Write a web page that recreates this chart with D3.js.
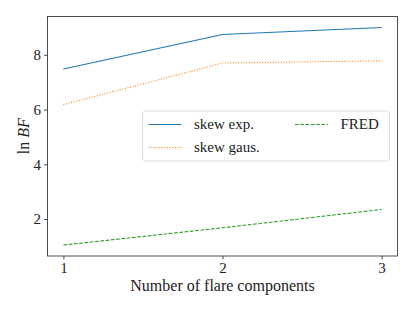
<!DOCTYPE html>
<html>
<head>
<meta charset="utf-8">
<script src="https://cdn.jsdelivr.net/npm/d3@7"></script>
<style>
  body { margin: 0; background: #fff; }
  svg text { font-family: "Liberation Serif", "DejaVu Serif", serif; fill: #222; }
</style>
</head>
<body>
<div id="chart"></div>
<script>
// values
var components = [1, 2, 3];
var skewExp = [7.48, 8.74, 9.0];
var skewGaus = [6.18, 7.70, 7.78];
var fred = [1.05, 1.68, 2.35];
var xTicks = [1, 2, 3];
var yTicks = [2, 4, 6, 8];

var w = 415, h = 311;
var plotL = 47.5, plotR = 397.5, plotT = 16.5, plotB = 256;

var svg = d3.select("#chart").append("svg")
  .attr("width", w).attr("height", h);

var x = d3.scaleLinear().domain([0.9, 3.1]).range([plotL, plotR]);
var y = d3.scaleLinear().domain([0.65, 9.4]).range([plotB, plotT]);

var series = [
  { name: "skew exp.", values: skewExp, color: "#1f77b4", dash: null },
  { name: "skew gaus.", values: skewGaus, color: "#ff7f0e", dash: "1,1.65" },
  { name: "FRED", values: fred, color: "#2ca02c", dash: "3.7,1.6" }
];

var line = d3.line()
  .x(function(d, i) { return x(components[i]); })
  .y(function(d) { return y(d); });

svg.selectAll("path.series")
  .data(series)
  .enter()
  .append("path")
  .attr("class", "series")
  .attr("d", function(s) { return line(s.values); })
  .attr("fill", "none")
  .attr("stroke", function(s) { return s.color; })
  .attr("stroke-width", 1.1)
  .attr("stroke-dasharray", function(s) { return s.dash; });

// axes
var xAxis = svg.append("g")
  .attr("transform", "translate(0," + plotB + ")")
  .call(d3.axisBottom(x).tickValues(xTicks).tickSize(3.5).tickPadding(3).tickFormat(d3.format("d")));
var yAxis = svg.append("g")
  .attr("transform", "translate(" + plotL + ",0)")
  .call(d3.axisLeft(y).tickValues(yTicks).tickSize(3.5).tickPadding(3).tickFormat(d3.format("d")));

[xAxis, yAxis].forEach(function(g) {
  g.select(".domain").remove();
  g.selectAll(".tick line").attr("stroke", "#222").attr("stroke-width", 0.8);
  g.selectAll(".tick text").attr("font-size", 15).attr("font-family", "Liberation Serif").attr("fill", "#222");
});

// frame
svg.append("rect")
  .attr("x", plotL).attr("y", plotT)
  .attr("width", plotR - plotL).attr("height", plotB - plotT)
  .attr("fill", "none").attr("stroke", "#222").attr("stroke-width", 0.8);

// axis labels
svg.append("text")
  .attr("x", (plotL + plotR) / 2).attr("y", 291)
  .attr("text-anchor", "middle").attr("font-size", 16)
  .text("Number of flare components");

var yl = svg.append("text")
  .attr("transform", "translate(29," + (plotT + plotB) / 2 + ") rotate(-90)")
  .attr("text-anchor", "middle").attr("font-size", 16);
yl.append("tspan").text("ln ");
yl.append("tspan").attr("font-style", "italic").text("BF");

// legend
var lg = svg.append("g");
lg.append("rect")
  .attr("x", 142.5).attr("y", 111).attr("width", 247).attr("height", 50)
  .attr("rx", 3).attr("fill", "#fff").attr("fill-opacity", 0.8)
  .attr("stroke", "#d6d6d6").attr("stroke-width", 0.8);

var legendPos = [
  { lx: 148.5, tx: 194, ty: 124.5 },
  { lx: 148.5, tx: 194, ty: 147.5 },
  { lx: 295, tx: 340.5, ty: 124.5 }
];

var items = lg.selectAll("g.item")
  .data(series)
  .enter()
  .append("g")
  .attr("class", "item");

items.append("line")
  .attr("x1", function(d, i) { return legendPos[i].lx; })
  .attr("x2", function(d, i) { return legendPos[i].lx + 33; })
  .attr("y1", function(d, i) { return legendPos[i].ty; })
  .attr("y2", function(d, i) { return legendPos[i].ty; })
  .attr("stroke", function(d) { return d.color; })
  .attr("stroke-width", 1.1)
  .attr("stroke-dasharray", function(d) { return d.dash; });

items.append("text")
  .attr("x", function(d, i) { return legendPos[i].tx; })
  .attr("y", function(d, i) { return legendPos[i].ty; })
  .attr("dy", "0.33em")
  .attr("font-size", 15)
  .text(function(d) { return d.name; });
</script>
</body>
</html>
